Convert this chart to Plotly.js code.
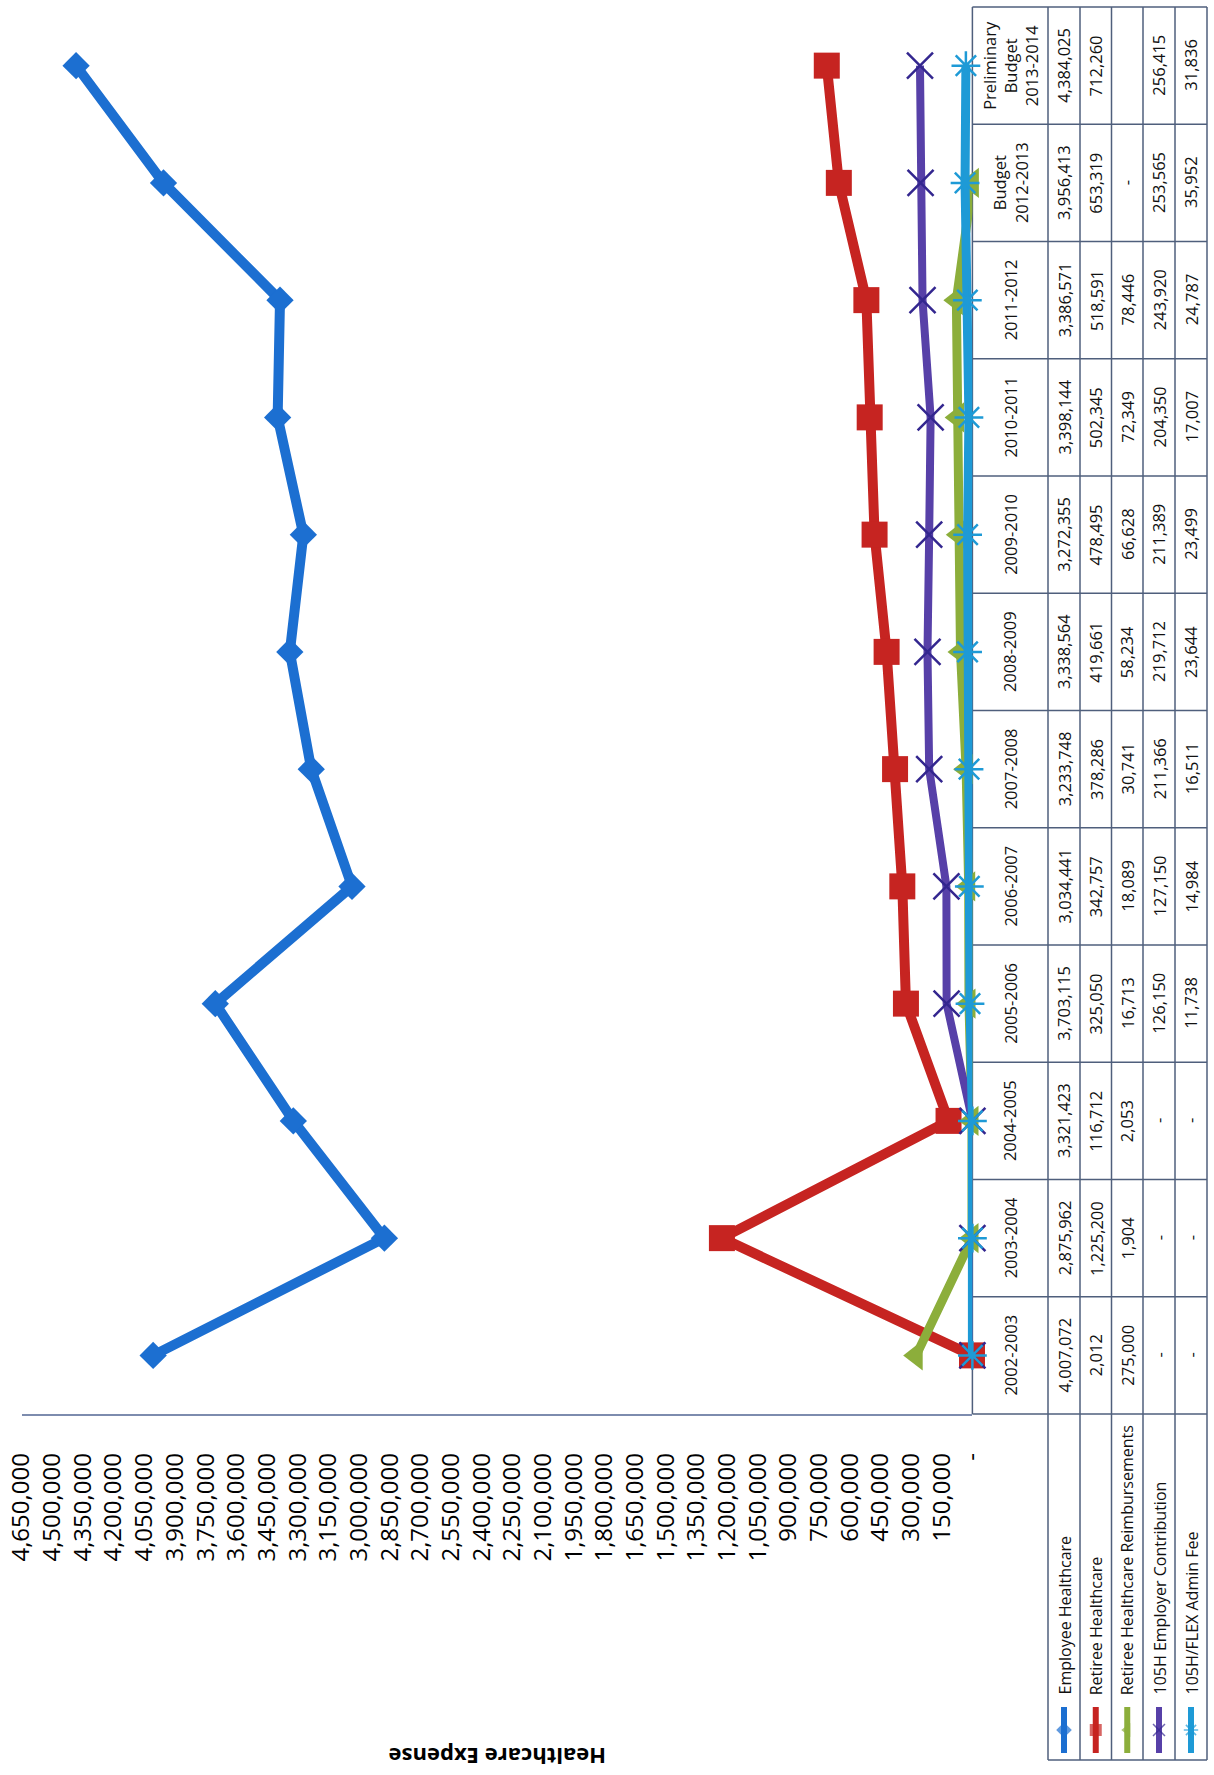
<!DOCTYPE html>
<html>
<head>
<meta charset="utf-8">
<script src="https://cdn.plot.ly/plotly-3.0.1.min.js"></script>
<style>html,body{margin:0;padding:0;background:#fff;}#chart{width:1214px;height:1775px;}</style>
</head>
<body>
<div id="chart"></div>
<script>
// ---- data ----
const categories = ['2002-2003','2003-2004','2004-2005','2005-2006','2006-2007','2007-2008','2008-2009','2009-2010','2010-2011','2011-2012','Budget 2012-2013','Preliminary Budget 2013-2014'];
const seriesNames = ['Employee Healthcare','Retiree Healthcare','Retiree Healthcare Reimbursements','105H Employer Contribution','105H/FLEX Admin Fee'];
const employeeHealthcare = [4007072,2875962,3321423,3703115,3034441,3233748,3338564,3272355,3398144,3386571,3956413,4384025];
const retireeHealthcare = [2012,1225200,116712,325050,342757,378286,419661,478495,502345,518591,653319,712260];
const retireeReimbursements = [275000,1904,2053,16713,18089,30741,58234,66628,72349,78446,0,null];
const employerContribution105H = [0,0,0,126150,127150,211366,219712,211389,204350,243920,253565,256415];
const flexAdminFee105H = [0,0,0,11738,14984,16511,23644,23499,17007,24787,35952,31836];
const valueAxisMax = 4650000;
const valueAxisStep = 150000;
const axisTitle = 'Healthcare Expense';

// ---- styles ----
const W = 1214, H = 1775;
const FONT = 'Open Sans, Liberation Sans, sans-serif';
const colors = ['#1c6fd1','#c62421','#8cae3b','#5740a8','#1e9ad6'];
const markerColors = ['#1c6fd1','#c62421','#8cae3b','#33268f','#1e9ad6'];
const symbols = ['diamond','square','triangle-left','x-thin-open','asterisk-open'];
const markerSizes = [21,26,26,26,24];
const markerLineW = [0,0,0,2.5,2.5];
const lineWidths = [10,10,9,8,9];
const gridColor = '#4f5f7c';
const TXT = {family: FONT, size: 16.5, color: '#111'};
const LEG_TXT = {family: FONT, size: 16, color: '#111'};

// geometry (pixels)
const plotLeft = 21.7, plotRight = 972.4, plotTop = 7, plotBottom = 1414;
const headerRight = 1048;
const rowEdges = [1048,1080,1111.5,1143,1175,1207];
const legendBottom = 1760;
const px = v => v / W;
const py = v => 1 - v / H;

const allSeries = [employeeHealthcare, retireeHealthcare, retireeReimbursements, employerContribution105H, flexAdminFee105H];

const traces = allSeries.map((vals, i) => ({
  type: 'scatter', mode: 'lines+markers', name: seriesNames[i],
  x: vals, y: categories, xaxis: 'x', yaxis: 'y',
  cliponaxis: false, connectgaps: false,
  line: {color: colors[i], width: lineWidths[i]},
  marker: {symbol: symbols[i], size: markerSizes[i], color: markerColors[i],
           line: {color: markerColors[i], width: markerLineW[i]}},
  showlegend: false, hoverinfo: 'skip'
}));

// legend keys inside the data-table legend cells (pixel overlay axes)
const keySizes = [12,12,12,12,12];
seriesNames.forEach((n, i) => {
  const cx = (rowEdges[i] + rowEdges[i+1]) / 2;
  traces.push({
    type: 'scatter', mode: 'lines+markers', xaxis: 'x2', yaxis: 'y2',
    x: [cx, cx, cx], y: [1707, 1730, 1753],
    line: {color: colors[i], width: 6},
    marker: {symbol: symbols[i], size: [0, keySizes[i], 0], color: markerColors[i],
             line: {color: markerColors[i], width: markerLineW[i] ? 1.5 : 0}},
    showlegend: false, hoverinfo: 'skip', cliponaxis: false
  });
});

// value axis ticks
const tickvals = [], ticktext = [];
for (let v = 0; v <= valueAxisMax + 1; v += valueAxisStep) {
  tickvals.push(v);
  ticktext.push(v === 0 ? '-' : v.toLocaleString('en-US'));
}

const fmt = v => v === null || v === undefined ? '' : (v === 0 ? '-' : v.toLocaleString('en-US'));

const shapes = [];
const L = (x0, y0, x1, y1, xref, yref) => shapes.push({type: 'line', xref: xref || 'paper', yref: yref || 'paper', x0, y0, x1, y1, line: {color: gridColor, width: 1.5}, layer: 'below'});
// table left border (category axis line)
L(px(plotRight), py(plotTop), px(plotRight), py(plotBottom));
// header/row vertical lines
rowEdges.forEach(e => L(px(e), py(plotTop), px(e), py(legendBottom)));
// top border
L(px(plotRight), py(plotTop), px(rowEdges[5]), py(plotTop));
// category boundaries
for (let k = 0; k < categories.length - 1; k++) {
  shapes.push({type: 'line', xref: 'paper', yref: 'y', x0: px(plotRight), x1: px(rowEdges[5]), y0: k + 0.5, y1: k + 0.5, line: {color: gridColor, width: 1.5}, layer: 'below'});
}
// bottom of table / legend top
L(px(plotRight), py(plotBottom), px(rowEdges[5]), py(plotBottom));
// legend bottom
L(px(headerRight), py(legendBottom), px(rowEdges[5]), py(legendBottom));

const annotations = [];
// category headers
categories.forEach((c, k) => {
  annotations.push({xref: 'paper', yref: 'y', x: px((plotRight + headerRight) / 2), y: k,
    text: c.split(' ').join('<br>'), textangle: -90, showarrow: false,
    xanchor: 'center', yanchor: 'middle', font: TXT});
});
// values
allSeries.forEach((vals, i) => {
  const cx = (rowEdges[i] + rowEdges[i+1]) / 2;
  vals.forEach((v, k) => {
    annotations.push({xref: 'paper', yref: 'y', x: px(cx), y: k, text: fmt(v), textangle: -90,
      showarrow: false, xanchor: 'center', yanchor: 'middle', font: TXT});
  });
  annotations.push({xref: 'paper', yref: 'paper', x: px(cx), y: py(1697), text: seriesNames[i], textangle: -90,
    showarrow: false, xanchor: 'center', yanchor: 'bottom', font: LEG_TXT});
});
// axis title (upside down)
annotations.push({xref: 'paper', yref: 'paper', x: px((plotLeft + plotRight) / 2), y: py(1757), text: '<b>' + axisTitle + '</b>',
  textangle: 180, showarrow: false, xanchor: 'center', yanchor: 'middle', font: {family: FONT, size: 22, color: '#000'}});

const layout = {
  width: W, height: H, margin: {l: 0, r: 0, t: 0, b: 0},
  paper_bgcolor: '#fff', plot_bgcolor: 'rgba(0,0,0,0)',
  showlegend: false,
  xaxis: {domain: [px(plotLeft), px(plotRight)], range: [valueAxisMax, 0], anchor: 'y',
    showline: true, linecolor: '#7d8cae', linewidth: 1.5, showgrid: false, zeroline: false,
    ticks: '', tickmode: 'array', tickvals, ticktext, tickangle: -90,
    tickfont: {family: FONT, size: 24, color: '#000'}, ticklabelstandoff: 28, automargin: false},
  yaxis: {domain: [py(plotBottom), py(plotTop)], type: 'category', categoryorder: 'array', categoryarray: categories,
    range: [-0.5, categories.length - 0.5], anchor: 'x', side: 'right',
    showline: false, showgrid: false, zeroline: false, showticklabels: false, ticks: '', automargin: false},
  xaxis2: {domain: [0, 1], range: [0, W], anchor: 'y2', visible: false, fixedrange: true},
  yaxis2: {domain: [0, 1], range: [H, 0], anchor: 'x2', visible: false, fixedrange: true},
  shapes, annotations
};

Plotly.newPlot('chart', traces, layout, {displayModeBar: false, staticPlot: true});
</script>
</body>
</html>
